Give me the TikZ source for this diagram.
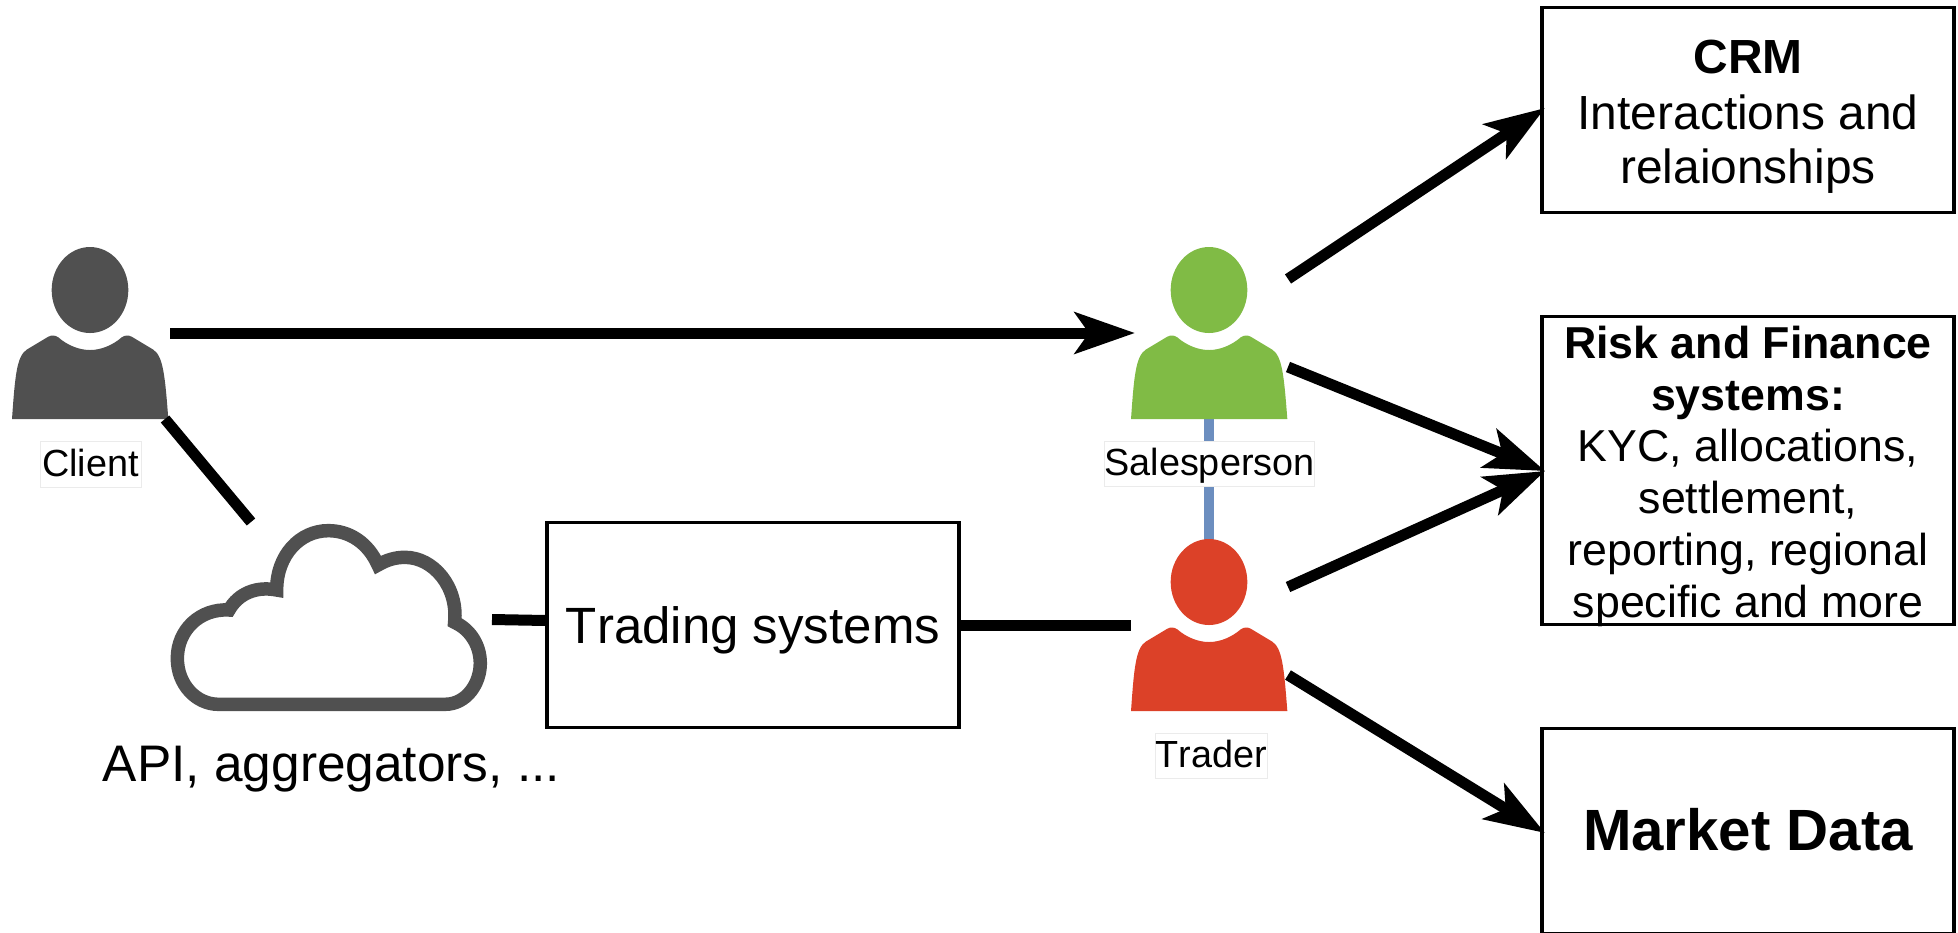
\documentclass[tikz,border=0pt]{standalone}
\usepackage{fontspec}
\setmainfont[Kerning=Off,Ligatures=NoCommon]{Liberation Sans}
\usetikzlibrary{arrows.meta}
\definecolor{iconGrey}{HTML}{505050}
\definecolor{salesGreen}{HTML}{80BB45}
\definecolor{traderRed}{HTML}{DC4128}
\definecolor{linkBlue}{HTML}{6C8EBF}
\tikzset{
  x=1pt,y=-1pt,
  personicon/.pic={
    \begin{scope}[x=.3333pt,y=-.3333pt,shift={(-270,-598)}]
      \fill[pic actions] (270,211) ellipse [x radius=115,y radius=129];
      \fill[pic actions] (36,598) .. controls (45,470) and (50,410) .. (80,390) -- (145,351)
        .. controls (155,346) and (165,346) .. (175,353)
        .. controls (200,375) and (235,391) .. (270,391)
        .. controls (305,391) and (340,375) .. (365,353)
        .. controls (375,346) and (385,346) .. (395,351) -- (460,390)
        .. controls (490,410) and (495,470) .. (505,598) -- cycle;
    \end{scope}
  },
  sysbox/.style={draw=black,line width=3.2pt,fill=white,inner sep=0pt,outer sep=0pt,align=center},
  tag/.style={draw=black!8,line width=.8pt,fill=white,inner sep=0pt,text height=30pt,text depth=6pt,font=\fontsize{37.8}{43}\selectfont},
  link/.style={draw=black,line width=11pt},
  flow/.style={draw=black,line width=11pt,-{Stealth[length=60pt,width=41pt,inset=14pt]}},
}
\begin{document}
\begin{tikzpicture}
\clip (0,0) rectangle (1958,932);
% anchor points on the person icons and the cloud
\coordinate (clientR) at (170,333);
\coordinate (clientB) at (165,419);
\coordinate (cloudT) at (251,522);
\coordinate (cloudR) at (492,619.5);
\coordinate (salesL) at (1135,333);
\coordinate (salesB) at (1209,419);
\coordinate (salesA) at (1288,279);
\coordinate (salesC) at (1288,367);
\coordinate (traderT) at (1209,545);
\coordinate (traderL) at (1131,625);
\coordinate (traderA) at (1288,587);
\coordinate (traderC) at (1288,675);
\coordinate (crmIn) at (1545,108);
\coordinate (riskIn) at (1545,471);
\coordinate (mktIn) at (1545,833);
\coordinate (tradeInL) at (546,620.5);
\coordinate (tradeOutR) at (959,625);

% boxes
\node[sysbox,minimum width=412pt,minimum height=205pt,text height=151.5pt,text depth=4pt,font=\fontsize{47.9}{54.5}\selectfont] (crm) at (1748,110)
  {\textbf{CRM}\\[1pt]Interactions and\\relaionships};
\node[sysbox,minimum width=412pt,minimum height=308pt,text height=297pt,text depth=4pt,font=\fontsize{44.7}{51.7}\selectfont] (risk) at (1748,470.5)
  {\textbf{Risk and Finance}\\\textbf{systems:}\\KYC, allocations,\\settlement,\\reporting, regional\\specific and more};
\node[sysbox,minimum width=412pt,minimum height=205pt,text height=42pt,text depth=4pt,font=\bfseries\fontsize{58.2}{66}\selectfont] (market) at (1748,831)
  {Market Data};
\node[sysbox,minimum width=412pt,minimum height=205pt,text height=40pt,text depth=4pt,font=\fontsize{51}{58}\selectfont] (trading) at (753,625)
  {Trading systems};

% blue link behind labels
\draw[linkBlue,line width=10pt] (salesB) -- (traderT);

% persons
\pic[iconGrey] (client) at (90,419) {personicon};
\pic[salesGreen] (sales) at (1209,419) {personicon};
\pic[traderRed] (trader) at (1209,711) {personicon};

% cloud
\begin{scope}[shift={(150pt,-500pt)},x=.3333pt,y=-.3333pt]
\draw[iconGrey,line width=13.5pt,miter limit=10,fill=white]
  (205,613) -- (885,613) .. controls (950,613) and (991,550) .. (991,490)
  .. controls (991,430) and (955,385) .. (914,367)
  .. controls (925,260) and (850,172) .. (765,172)
  .. controls (735,172) and (710,180) .. (684,195)
  .. controls (655,130) and (600,92) .. (535,92)
  .. controls (450,92) and (380,165) .. (380,270)
  .. controls (320,258) and (265,280) .. (237,330)
  .. controls (150,325) and (82,390) .. (82,475)
  .. controls (82,555) and (140,613) .. (205,613) -- cycle;
\end{scope}

% labels
\node[tag,minimum width=101pt,minimum height=46pt] (clientTag) at (90.5,464) {Client};
\node[tag,minimum width=209pt,minimum height=45pt] (salesTag) at (1209.5,463.5) {Salesperson};
\node[tag,minimum width=109pt,minimum height=45pt] (traderTag) at (1211.5,755.5) {Trader};
\node[anchor=base,inner sep=0pt,font=\fontsize{51.4}{58}\selectfont] (apiTag) at (331.5,781) {API, aggregators, ...};

% connectors
\draw[flow] (clientR) -- (salesL);
\draw[link] (clientB) -- (cloudT);
\draw[link] (cloudR) -- (tradeInL);
\draw[link] (tradeOutR) -- (traderL);
\draw[flow] (salesA) -- (crmIn);
\draw[flow] (salesC) -- (riskIn);
\draw[flow] (traderA) -- (riskIn);
\draw[flow] (traderC) -- (mktIn);
\end{tikzpicture}
\end{document}
